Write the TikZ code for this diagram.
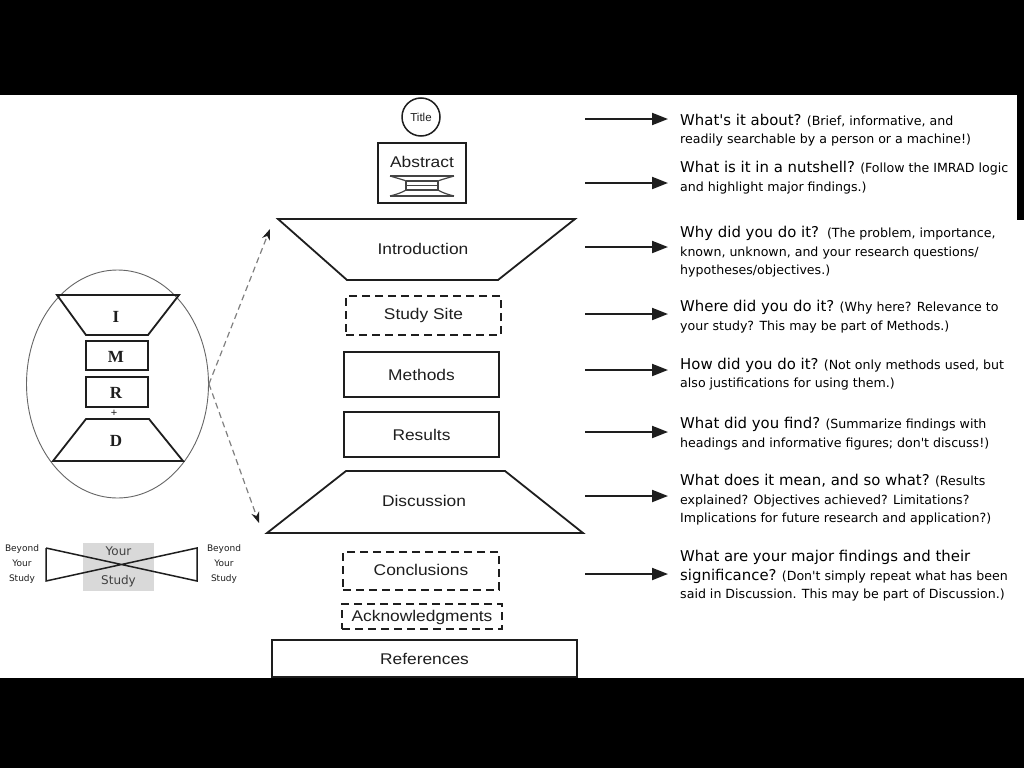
\documentclass[tikz,border=0pt]{standalone}
\usepackage{fontspec}
\setmainfont{Liberation Sans}
\newfontfamily\midfont[FakeStretch=1.12]{Liberation Sans}
\newfontfamily\qfont{DejaVu Sans}
\newfontfamily\letterfont{Liberation Serif}
\usetikzlibrary{arrows.meta,shapes.geometric}
\definecolor{ink}{HTML}{1E1E1E}
\definecolor{boxgray}{HTML}{D9D9D9}
\definecolor{icongray}{HTML}{444444}
\newcommand{\qa}{\fontsize{14.9}{18.5}\selectfont}
\newcommand{\qb}{\fontsize{12.6}{18.5}\selectfont}
\tikzset{
  shapeline/.style={draw=ink, line width=1.8pt, line join=miter},
  box/.style={draw=ink, line width=1.8pt, inner sep=0pt, minimum width=155pt},
  dbox/.style={box, dash pattern=on 8pt off 5pt},
  midlabel/.style={text=ink, inner sep=0pt, font=\midfont\fontsize{15.5}{18}\selectfont},
  qtext/.style={anchor=west, inner sep=0pt, align=left, text=black, font=\qfont\qb},
  rarrow/.style={draw=ink, line width=2pt, -{Triangle[length=16pt,width=12pt]}},
  dasharrow/.style={draw=gray, line width=1.2pt, dash pattern=on 6pt off 4pt, -{Stealth[length=11pt,width=8pt,color=ink]}},
  letter/.style={inner sep=0pt, text=ink, font=\letterfont\bfseries\fontsize{17}{19}\selectfont},
  smallbox/.style={draw=ink, line width=1.8pt, inner sep=0pt, minimum width=62pt},
  beyond/.style={inner sep=0pt, align=center, text=ink, font=\qfont\fontsize{9}{15}\selectfont},
}
\begin{document}
\begin{tikzpicture}[x=1pt,y=-1pt]
\useasboundingbox (0,0) rectangle (1024,768);
\fill[black] (0,0) rectangle (1024,768);
\fill[white] (0,95) rectangle (1024,678);

% ---------- middle column ----------
\node[draw=ink, circle, line width=1.5pt, minimum size=38pt, inner sep=0pt] (title) at (421,117) {};
\node[inner sep=0pt, text=ink, font=\fontsize{11.5}{13}\selectfont] (titletxt) at (421,117) {Title};

\node[box, minimum width=88pt, minimum height=60pt] (abstract) at (422,173) {};
\node[midlabel] (abstracttxt) at (422,162) {Abstract};
% little IMRAD icon
\draw[icongray, line width=1.8pt] (390,176) -- (454,176);
\draw[icongray, line width=1.2pt] (390,176) .. controls (400,179) and (404,180) .. (406,181);
\draw[icongray, line width=1.2pt] (454,176) .. controls (444,179) and (440,180) .. (438,181);
\draw[icongray, line width=1.6pt] (406,181) -- (438,181);
\draw[icongray, line width=1.6pt] (406,185.5) -- (438,185.5);
\draw[icongray, line width=1.6pt] (406,190) -- (438,190);
\draw[icongray, line width=1.2pt] (406,190) .. controls (403,192) and (398,194) .. (390,196);
\draw[icongray, line width=1.2pt] (438,190) .. controls (441,192) and (446,194) .. (454,196);
\draw[icongray, line width=1.8pt] (390,196) -- (454,196);
\draw[icongray, line width=1.2pt] (406,181) -- (406,190);
\draw[icongray, line width=1.2pt] (438,181) -- (438,190);

% Introduction
\draw[shapeline] (278,219) -- (575,219) -- (498,280) -- (347,280) -- cycle;
\node[midlabel] (intro) at (423,249) {Introduction};

\node[dbox, minimum height=39pt] (site) at (423.5,315.5) {};
\node[midlabel] (sitetxt) at (423.5,315.5) {Study Site};

\node[box, minimum height=45pt] (methods) at (421.5,374.5) {};
\node[midlabel] (methodstxt) at (421.5,375) {Methods};

\node[box, minimum height=45pt] (results) at (421.5,434.5) {};
\node[midlabel] (resultstxt) at (421.5,435) {Results};

\draw[shapeline] (346,471) -- (505,471) -- (583,533) -- (267,533) -- cycle;
\node[midlabel] (disc) at (424,501) {Discussion};

\node[dbox, minimum width=156pt, minimum height=38pt] (concl) at (421,571) {};
\node[midlabel] (concltxt) at (421,570) {Conclusions};

\node[dbox, minimum width=160pt, minimum height=25pt] (ack) at (422,616.5) {};
\node[midlabel] (acktxt) at (422,617) {Acknowledgments};

\node[box, minimum width=305pt, minimum height=37pt] (refs) at (424.5,658.5) {};
\node[midlabel] (refstxt) at (424.5,659) {References};

% ---------- right column ----------
\node[qtext] (q1) at (680,130) {{\qa What's it about?} (Brief, informative, and\\readily searchable by a person or a machine!)};
\node[qtext] (q2) at (680,177.5) {{\qa What is it in a nutshell?} (Follow the IMRAD logic\\and highlight major findings.)};
\node[qtext] (q3) at (680,252) {{\qa Why did you do it?}\ \ (The problem, importance,\\known, unknown, and your research questions/\\hypotheses/objectives.)};
\node[qtext] (q4) at (680,316.5) {{\qa Where did you do it?} (Why here? Relevance to\\your study? This may be part of Methods.)};
\node[qtext] (q5) at (680,374) {{\qa How did you do it?} (Not only methods used, but\\also justifications for using them.)};
\node[qtext] (q6) at (680,433.5) {{\qa What did you find?} (Summarize findings with\\headings and informative figures; don't discuss!)};
\node[qtext] (q7) at (680,500) {{\qa What does it mean, and so what?} (Results\\explained? Objectives achieved? Limitations?\\Implications for future research and application?)};
\node[qtext] (q8) at (680,576) {{\qa What are your major findings and their}\\{\qa significance?} (Don't simply repeat what has been\\said in Discussion. This may be part of Discussion.)};

\foreach \i/\y in {1/119,2/183,3/247,4/314,5/370,6/432,7/496,8/574}{
  \coordinate (s\i) at (585,\y);
  \coordinate (e\i) at (668,\y);
  \draw[rarrow] (s\i) -- (e\i);
}
\fill[black] (1017,95) rectangle (1024,220);

% ---------- IMRAD ellipse ----------
\node[draw=gray!80!black, line width=0.9pt, ellipse, minimum width=182pt, minimum height=228pt, inner sep=0pt] (imrad) at (117.5,384) {};
\draw[shapeline] (57,295) -- (179,295) -- (148,335) -- (86,335) -- cycle;
\node[letter] (li) at (116,317) {I};
\node[smallbox, minimum height=29pt] (mbox) at (117,355.5) {};
\node[letter] (lm) at (116,357) {M};
\node[smallbox, minimum height=30pt] (rbox) at (117,392) {};
\node[letter] (lr) at (116,393) {R};
\node[inner sep=0pt, text=ink, font=\fontsize{11}{11}\selectfont] (plus) at (114,413) {+};
\draw[shapeline] (86,419) -- (149,419) -- (183,461) -- (53,461) -- cycle;
\node[letter] (ld) at (116,441) {D};

\coordinate (upt) at (270,229);
\coordinate (dnt) at (259,523);
\draw[dasharrow] (imrad.east) -- (upt);
\draw[dasharrow] (imrad.east) -- (dnt);

% ---------- bow tie ----------
\node[fill=boxgray, minimum width=71pt, minimum height=48pt, inner sep=0pt] (ys) at (118.5,567) {};
\coordinate (bl1) at (46,548);
\coordinate (bl2) at (46,581);
\coordinate (br1) at (197,548);
\coordinate (br2) at (197,581);
\draw[ink, line width=1.5pt] (bl1) -- (bl2) -- (br1) -- (br2) -- (bl1);
\node[inner sep=0pt, text=black!75, font=\qfont\fontsize{12}{14}\selectfont] (your) at (118.5,551) {Your};
\node[inner sep=0pt, text=black!75, font=\qfont\fontsize{12}{14}\selectfont] (study) at (118.5,581) {Study};
\node[beyond] (bleft) at (22,564) {Beyond\\Your\\Study};
\node[beyond] (bright) at (224,564) {Beyond\\Your\\Study};
\end{tikzpicture}
\end{document}
